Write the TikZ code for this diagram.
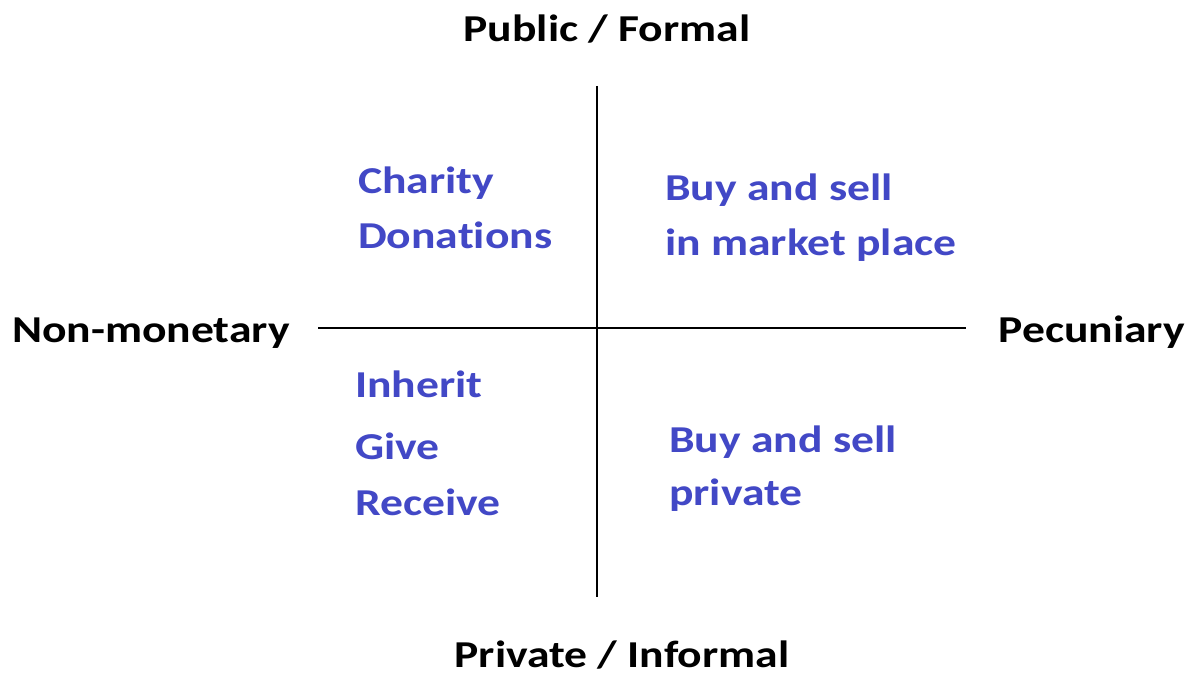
\documentclass[tikz,border=0pt]{standalone}
\usepackage{fontspec}
% Carlito, widened, without the "ti" ligature
\setmainfont{Carlito}[FakeStretch=1.2,RawFeature=-liga]
\begin{document}
\begin{tikzpicture}[x=1pt,y=-1pt,
  axis/.style={line width=2.6pt,black},
  pole/.style={font=\bfseries\fontsize{38}{44}\selectfont,text=black,inner sep=0pt},
  item/.style={font=\bfseries\fontsize{38}{44}\selectfont,text=quadblue,inner sep=0pt,anchor=base west}]
\definecolor{quadblue}{RGB}{66,72,198}
\useasboundingbox[fill=white] (0,0) rectangle (1195,677);
% axes
\coordinate (top) at (597,86);
\coordinate (bottom) at (597,597);
\coordinate (left) at (318,328);
\coordinate (right) at (966,328);
\draw[axis] (top) -- (bottom);
\draw[axis] (left) -- (right);
% pole labels
\node[pole,anchor=base] (pub) at (607,42) {Public / Formal};
\node[pole,anchor=base] (priv) at (622,667) {Private / Informal};
\node[pole,anchor=base west] (nonmon) at (12,342) {Non-monetary};
\node[pole,anchor=base east] (pec) at (1185,342) {Pecuniary};
% quadrant contents
\node[item] (charity) at (358,193) {Charity};
\node[item] (donations) at (358,248) {Donations};
\node[item] (buy1) at (665,200) {Buy and sell};
\node[item] (market) at (665,255) {in market place};
\node[item] (inherit) at (355,397) {Inherit};
\node[item] (give) at (355,459) {Give};
\node[item] (receive) at (355,515) {Receive};
\node[item] (buy2) at (669,452) {Buy and sell};
\node[item] (private) at (669,505) {private};
\end{tikzpicture}
\end{document}
